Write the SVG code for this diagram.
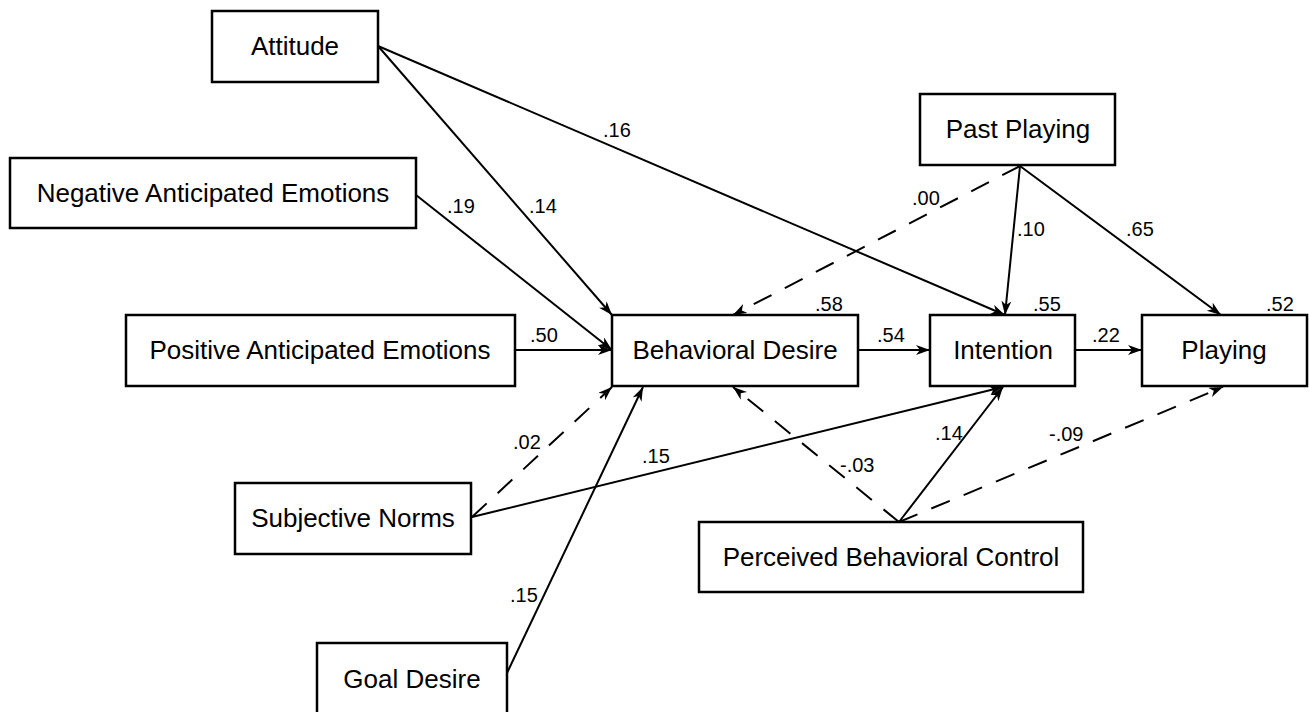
<svg xmlns="http://www.w3.org/2000/svg" width="1309" height="712" viewBox="0 0 1309 712">
<style>
.box{fill:#fff;stroke:#000;stroke-width:2.5}
.nt{font-family:"Liberation Sans",Arial,sans-serif;font-size:26px;fill:#000;text-anchor:middle;dominant-baseline:central}
.lb{font-family:"Liberation Sans",Arial,sans-serif;font-size:20px;fill:#000}
.ln{fill:none;stroke:#000;stroke-width:2;marker-end:url(#ah)}
.ds{stroke-dasharray:20 15}
</style>
<defs>
<marker id="ah" markerUnits="userSpaceOnUse" markerWidth="16" markerHeight="12" refX="14" refY="5" orient="auto">
<path d="M0,0 L14,5 L0,10 L4,5 Z" fill="#000"/>
</marker>
</defs>
<rect width="1309" height="712" fill="#fff"/>
<g id="connectors">
<line class="ln" x1="378" y1="46" x2="612" y2="315"/>
<line class="ln" x1="378" y1="46" x2="1005" y2="315"/>
<line class="ln" x1="416" y1="195" x2="612" y2="350"/>
<line class="ln" x1="515" y1="350" x2="612" y2="350"/>
<line class="ln ds" x1="1020" y1="166" x2="733" y2="315"/>
<line class="ln" x1="1020" y1="166" x2="1005" y2="315"/>
<line class="ln" x1="1020" y1="166" x2="1221" y2="315"/>
<line class="ln" x1="858" y1="350" x2="930" y2="350"/>
<line class="ln" x1="1075" y1="350" x2="1142" y2="350"/>
<line class="ln ds" x1="472" y1="517" x2="612" y2="387"/>
<line class="ln" x1="472" y1="517" x2="1003" y2="387"/>
<line class="ln" x1="507" y1="673" x2="643" y2="387"/>
<line class="ln ds" x1="899" y1="522" x2="733" y2="387"/>
<line class="ln" x1="899" y1="522" x2="1003" y2="387"/>
<line class="ln ds" x1="899" y1="522" x2="1223" y2="387"/>
<text class="lb" x="603" y="137">.16</text>
<text class="lb" x="529" y="213">.14</text>
<text class="lb" x="447" y="213">.19</text>
<text class="lb" x="530" y="342">.50</text>
<text class="lb" x="815" y="311">.58</text>
<text class="lb" x="877" y="342">.54</text>
<text class="lb" x="1033" y="311">.55</text>
<text class="lb" x="1092" y="342">.22</text>
<text class="lb" x="1266" y="311">.52</text>
<text class="lb" x="912" y="205">.00</text>
<text class="lb" x="1017" y="236">.10</text>
<text class="lb" x="1126" y="236">.65</text>
<text class="lb" x="513" y="449">.02</text>
<text class="lb" x="642" y="463">.15</text>
<text class="lb" x="840" y="472">-.03</text>
<text class="lb" x="935" y="440">.14</text>
<text class="lb" x="1049" y="441">-.09</text>
<text class="lb" x="510" y="602">.15</text>
</g>
<g id="attitude"><rect class="box" x="212" y="11" width="166" height="71"/><text class="nt" x="295" y="46">Attitude</text></g>
<g id="negative"><rect class="box" x="10" y="158" width="406" height="70"/><text class="nt" x="213" y="193">Negative Anticipated Emotions</text></g>
<g id="positive"><rect class="box" x="126" y="315" width="389" height="71"/><text class="nt" x="320" y="350">Positive Anticipated Emotions</text></g>
<g id="behavioral-desire"><rect class="box" x="612" y="315" width="246" height="71"/><text class="nt" x="735" y="350">Behavioral Desire</text></g>
<g id="intention"><rect class="box" x="930" y="315" width="145" height="71"/><text class="nt" x="1003" y="350">Intention</text></g>
<g id="playing"><rect class="box" x="1142" y="315" width="165" height="71"/><text class="nt" x="1224" y="350">Playing</text></g>
<g id="past-playing"><rect class="box" x="920" y="94" width="195" height="71"/><text class="nt" x="1018" y="129">Past Playing</text></g>
<g id="subjective-norms"><rect class="box" x="235" y="483" width="236" height="71"/><text class="nt" x="353" y="518">Subjective Norms</text></g>
<g id="goal-desire"><rect class="box" x="317" y="643" width="190" height="75"/><text class="nt" x="412" y="679">Goal Desire</text></g>
<g id="pbc"><rect class="box" x="699" y="522" width="384" height="70"/><text class="nt" x="891" y="557">Perceived Behavioral Control</text></g>
</svg>
